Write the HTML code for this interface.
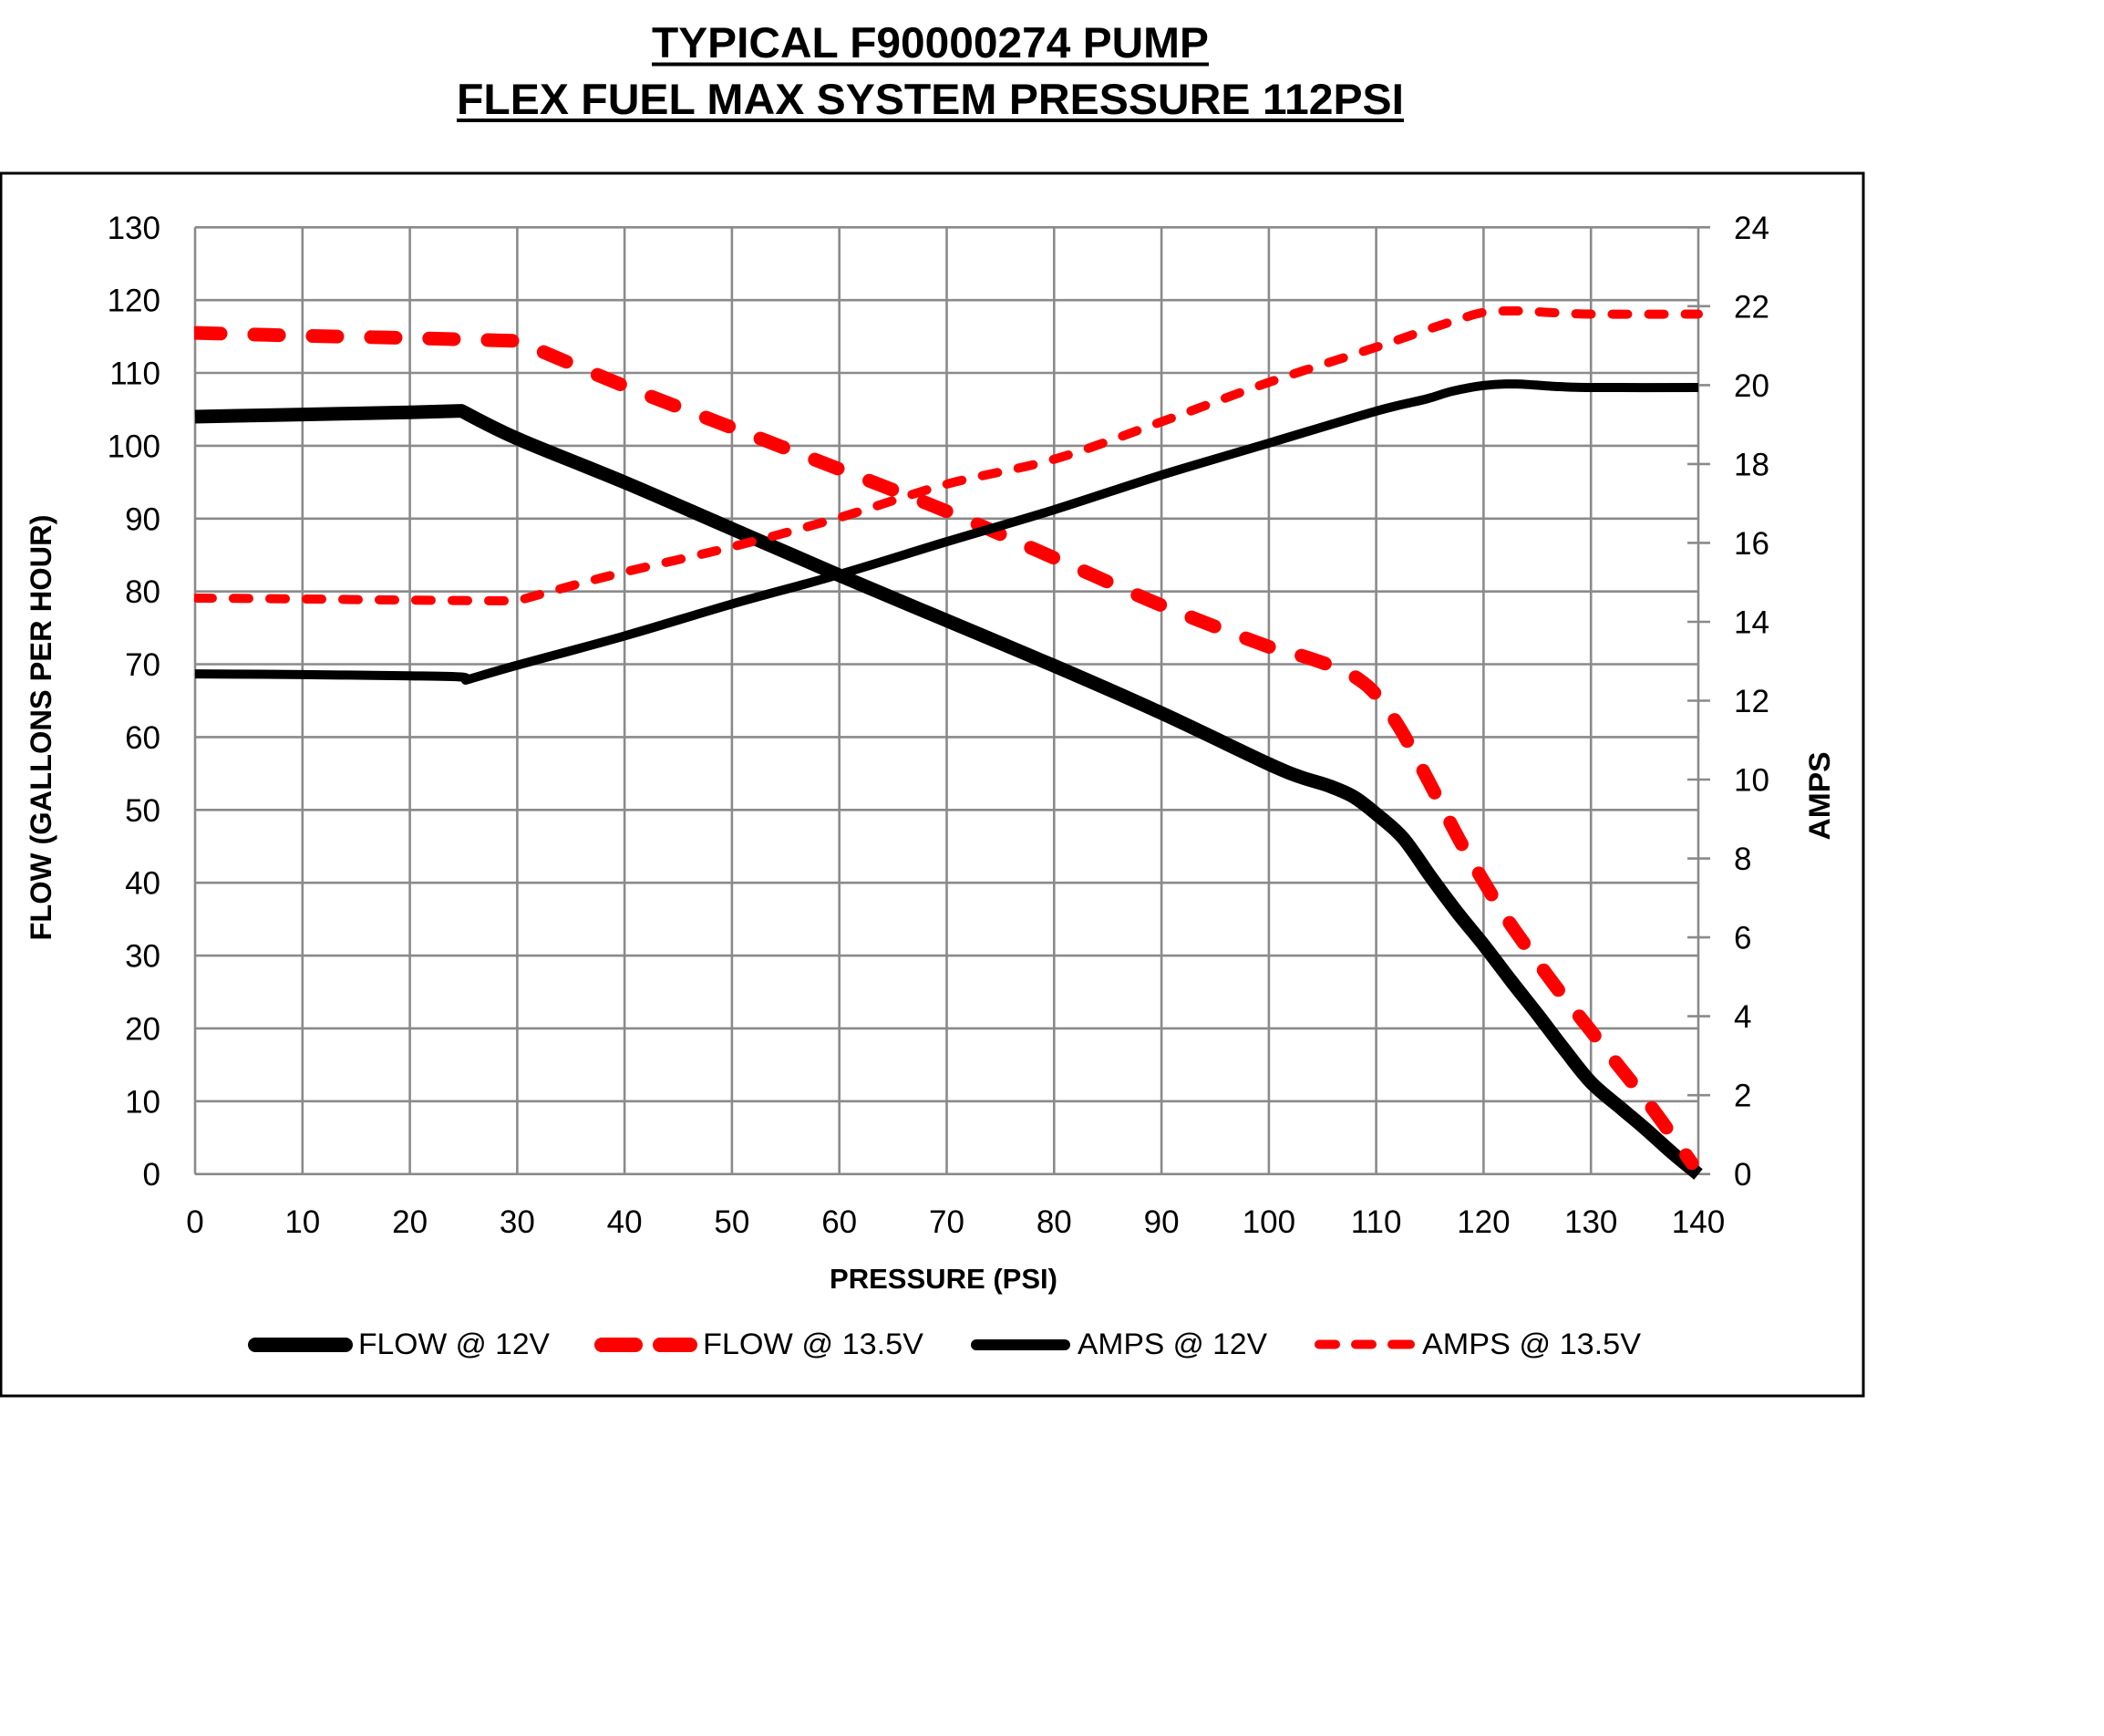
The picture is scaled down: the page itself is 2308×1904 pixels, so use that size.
<!DOCTYPE html>
<html>
<head>
<meta charset="utf-8">
<style>
html,body{margin:0;padding:0;background:#fff;}
svg{display:block;}
text{font-family:"Liberation Sans",Arial,sans-serif;}
</style>
</head>
<body>
<svg id="chart" width="2308" height="1904" viewBox="0 0 2308 1904" xmlns="http://www.w3.org/2000/svg">
<rect x="0" y="0" width="2308" height="1904" fill="#ffffff"/>

<!-- Title -->
<text x="715" y="63" font-size="47" font-weight="bold" fill="#000" textLength="611" lengthAdjust="spacingAndGlyphs">TYPICAL F90000274 PUMP</text>
<rect x="715" y="68.5" width="611" height="4" fill="#000"/>
<text x="501" y="125" font-size="47" font-weight="bold" fill="#000" textLength="1039" lengthAdjust="spacingAndGlyphs">FLEX FUEL MAX SYSTEM PRESSURE 112PSI</text>
<rect x="501" y="130" width="1039" height="4" fill="#000"/>

<!-- Frame -->
<rect x="1" y="190" width="2043" height="1341" fill="none" stroke="#000" stroke-width="3"/>

<!-- Gridlines -->
<path fill="none" stroke="#8a8a8a" stroke-width="2.6" d="
M214 249.3V1287.7 M331.8 249.3V1287.7 M449.6 249.3V1287.7 M567.4 249.3V1287.7 M685.1 249.3V1287.7
M802.9 249.3V1287.7 M920.7 249.3V1287.7 M1038.5 249.3V1287.7 M1156.3 249.3V1287.7 M1274.1 249.3V1287.7
M1391.9 249.3V1287.7 M1509.6 249.3V1287.7 M1627.4 249.3V1287.7 M1745.2 249.3V1287.7 M1863 249.3V1287.7
M214 1287.7H1863 M214 1207.8H1863 M214 1127.9H1863 M214 1048.1H1863 M214 968.2H1863 M214 888.3H1863
M214 808.4H1863 M214 728.5H1863 M214 648.7H1863 M214 568.8H1863 M214 488.9H1863 M214 409.0H1863
M214 329.2H1863 M214 249.3H1863"/>
<!-- Right axis ticks -->
<path fill="none" stroke="#8a8a8a" stroke-width="2.6" d="
M1851 1287.7H1876 M1851 1201.2H1876 M1851 1114.6H1876 M1851 1028.1H1876 M1851 941.6H1876
M1851 855.0H1876 M1851 768.5H1876 M1851 682.0H1876 M1851 595.4H1876 M1851 508.9H1876
M1851 422.4H1876 M1851 335.8H1876 M1851 249.3H1876"/>

<!-- Left axis labels -->
<g font-size="35" fill="#000" text-anchor="end">
<text x="176" y="1300.2">0</text>
<text x="176" y="1220.3">10</text>
<text x="176" y="1140.4">20</text>
<text x="176" y="1060.6">30</text>
<text x="176" y="980.7">40</text>
<text x="176" y="900.8">50</text>
<text x="176" y="820.9">60</text>
<text x="176" y="741.0">70</text>
<text x="176" y="661.2">80</text>
<text x="176" y="581.3">90</text>
<text x="176" y="501.4">100</text>
<text x="176" y="421.5">110</text>
<text x="176" y="341.7">120</text>
<text x="176" y="261.8">130</text>
</g>

<!-- Right axis labels -->
<g font-size="35" fill="#000" text-anchor="start">
<text x="1902" y="1300.2">0</text>
<text x="1902" y="1213.7">2</text>
<text x="1902" y="1127.1">4</text>
<text x="1902" y="1040.6">6</text>
<text x="1902" y="954.1">8</text>
<text x="1902" y="867.5">10</text>
<text x="1902" y="781.0">12</text>
<text x="1902" y="694.5">14</text>
<text x="1902" y="607.9">16</text>
<text x="1902" y="521.4">18</text>
<text x="1902" y="434.9">20</text>
<text x="1902" y="348.3">22</text>
<text x="1902" y="261.8">24</text>
</g>

<!-- X axis labels -->
<g font-size="35" fill="#000" text-anchor="middle">
<text x="214" y="1352">0</text>
<text x="331.8" y="1352">10</text>
<text x="449.6" y="1352">20</text>
<text x="567.4" y="1352">30</text>
<text x="685.1" y="1352">40</text>
<text x="802.9" y="1352">50</text>
<text x="920.7" y="1352">60</text>
<text x="1038.5" y="1352">70</text>
<text x="1156.3" y="1352">80</text>
<text x="1274.1" y="1352">90</text>
<text x="1391.9" y="1352">100</text>
<text x="1509.6" y="1352">110</text>
<text x="1627.4" y="1352">120</text>
<text x="1745.2" y="1352">130</text>
<text x="1863" y="1352">140</text>
</g>

<!-- Axis titles -->
<text x="1035" y="1413" font-size="31" font-weight="bold" fill="#000" text-anchor="middle" textLength="250" lengthAdjust="spacingAndGlyphs">PRESSURE (PSI)</text>
<text transform="translate(56,798) rotate(-90)" font-size="32" font-weight="bold" fill="#000" text-anchor="middle" textLength="467" lengthAdjust="spacingAndGlyphs">FLOW (GALLONS PER HOUR)</text>
<text transform="translate(2007,873) rotate(-90)" font-size="32" font-weight="bold" fill="#000" text-anchor="middle" textLength="97" lengthAdjust="spacingAndGlyphs">AMPS</text>

<defs>
<clipPath id="pc"><rect x="213" y="200" width="1662" height="1100"/></clipPath>
</defs>

<g clip-path="url(#pc)" fill="none">
<!-- FLOW @ 12V -->
<polyline class="sm" stroke="#000" stroke-width="15" stroke-linejoin="round" stroke-linecap="butt" points="
214,457.0 331.8,454.6 449.6,452.2 506.1,450.6 506.1,450.6 567.4,481 685.1,529 802.9,580 920.7,631
1038.5,680.6 1156.3,730.2 1274.1,782.1 1392,838 1426,852 1458,862 1485,874 1510,893 1539,919
1569,961 1598,1000 1628,1037 1657,1075 1687,1113 1716,1151 1745.6,1187.5 1780,1217 1804.5,1237.7
1835,1265 1863,1288"/>
<!-- FLOW @ 13.5V -->
<polyline class="sm" stroke="#ff0000" stroke-width="15" stroke-linejoin="round" stroke-linecap="round" stroke-dasharray="27 37" stroke-dashoffset="-1" points="
214,365.1 331.8,368.3 449.6,370.7 567.4,373.9 567.4,373.9 685.1,423.4 802.9,469.0 920.7,514.5 1038.5,560.8
1156.3,611.9 1274.1,663.9 1391.9,709.4 1427.2,719.0 1468.4,733.4 1492.0,746.1 1509.6,762.1
1533.2,794.9 1556.8,837.2 1581.5,884.3 1603.9,926.7 1627.4,966.6 1651.0,1004.9 1680.4,1046.5
1709.9,1086.4 1741.7,1126.3 1774.7,1167.9 1806.5,1207.8 1833.6,1244.6 1855.9,1275.7"/>
<!-- AMPS @ 12V -->
<polyline class="sm" stroke="#000" stroke-width="10" stroke-linejoin="round" stroke-linecap="butt" points="
214,739.1 331.8,739.9 449.6,741.2 506.1,742.5 510.8,746.0 510.8,746.0 567.4,729.6 685.1,697.5 802.9,662.5
920.7,630.0 1038.5,594.1 1156.3,559.1 1274.1,521.0 1391.9,486.0 1509.6,450.9 1565.0,437.5
1592.1,429.3 1627.4,422.8 1662.8,421.1 1709.9,424.0 1745.2,425.0 1863,425.0"/>
<!-- AMPS @ 13.5V -->
<polyline class="sm" stroke="#ff0000" stroke-width="10" stroke-linejoin="round" stroke-linecap="round" stroke-dasharray="17 23" stroke-dashoffset="-2" points="
214,656.0 331.8,656.9 449.6,658.2 567.4,659.0 567.4,659.0 607.4,647.8 685.1,627.4 802.9,599.8 920.7,567.7
1038.5,531.0 1156.3,503.7 1274.1,462.6 1391.9,419.3 1509.6,380.8 1565.0,361.8 1598,351
1627.4,342.7 1662.8,341.0 1699.5,342.7 1745.2,344.5 1863,344.5"/>
</g>

<!-- Legend -->
<g fill="none">
<line x1="280" y1="1475" x2="379" y2="1475" stroke="#000" stroke-width="16" stroke-linecap="round"/>
<line x1="660" y1="1475" x2="697" y2="1475" stroke="#ff0000" stroke-width="16" stroke-linecap="round"/>
<line x1="724" y1="1475" x2="757" y2="1475" stroke="#ff0000" stroke-width="16" stroke-linecap="round"/>
<line x1="1071" y1="1475" x2="1168" y2="1475" stroke="#000" stroke-width="12" stroke-linecap="round"/>
<line x1="1447" y1="1474.5" x2="1465" y2="1474.5" stroke="#ff0000" stroke-width="10" stroke-linecap="round"/>
<line x1="1487" y1="1474.5" x2="1505" y2="1474.5" stroke="#ff0000" stroke-width="10" stroke-linecap="round"/>
<line x1="1527" y1="1474.5" x2="1547" y2="1474.5" stroke="#ff0000" stroke-width="10" stroke-linecap="round"/>
</g>
<g font-size="32" fill="#000">
<text x="393" y="1485" textLength="210" lengthAdjust="spacingAndGlyphs">FLOW @ 12V</text>
<text x="771" y="1485" textLength="242" lengthAdjust="spacingAndGlyphs">FLOW @ 13.5V</text>
<text x="1182" y="1485" textLength="208" lengthAdjust="spacingAndGlyphs">AMPS @ 12V</text>
<text x="1560" y="1485" textLength="240" lengthAdjust="spacingAndGlyphs">AMPS @ 13.5V</text>
</g>
</svg>
<script>
(function(){
  var ns = "http://www.w3.org/2000/svg";
  var pls = document.querySelectorAll("polyline.sm");
  for (var i = 0; i < pls.length; i++) {
    var pl = pls[i];
    var raw = pl.getAttribute("points").trim().split(/\s+/);
    var p = [];
    for (var j = 0; j < raw.length; j++) {
      var c = raw[j].split(",");
      p.push([parseFloat(c[0]), parseFloat(c[1])]);
    }
    var groups = [[p[0]]];
    for (var j2 = 1; j2 < p.length; j2++) {
      var prev = p[j2 - 1];
      if (p[j2][0] === prev[0] && p[j2][1] === prev[1]) {
        groups.push([p[j2]]);
      } else {
        groups[groups.length - 1].push(p[j2]);
      }
    }
    var d = "M" + p[0][0] + "," + p[0][1];
    for (var g = 0; g < groups.length; g++) {
      var q = groups[g];
      for (var k = 0; k < q.length - 1; k++) {
        var p0 = q[k > 0 ? k - 1 : k], p1 = q[k], p2 = q[k + 1], p3 = q[k + 2 < q.length ? k + 2 : k + 1];
        var c1x = p1[0] + (p2[0] - p0[0]) / 6, c1y = p1[1] + (p2[1] - p0[1]) / 6;
        var c2x = p2[0] - (p3[0] - p1[0]) / 6, c2y = p2[1] - (p3[1] - p1[1]) / 6;
        d += " C" + c1x.toFixed(1) + "," + c1y.toFixed(1) + " " + c2x.toFixed(1) + "," + c2y.toFixed(1) + " " + p2[0] + "," + p2[1];
      }
    }
    var path = document.createElementNS(ns, "path");
    for (var a = 0; a < pl.attributes.length; a++) {
      var at = pl.attributes[a];
      if (at.name !== "points" && at.name !== "class") path.setAttribute(at.name, at.value);
    }
    path.setAttribute("d", d);
    pl.parentNode.replaceChild(path, pl);
  }
})();
</script>
</body>
</html>
